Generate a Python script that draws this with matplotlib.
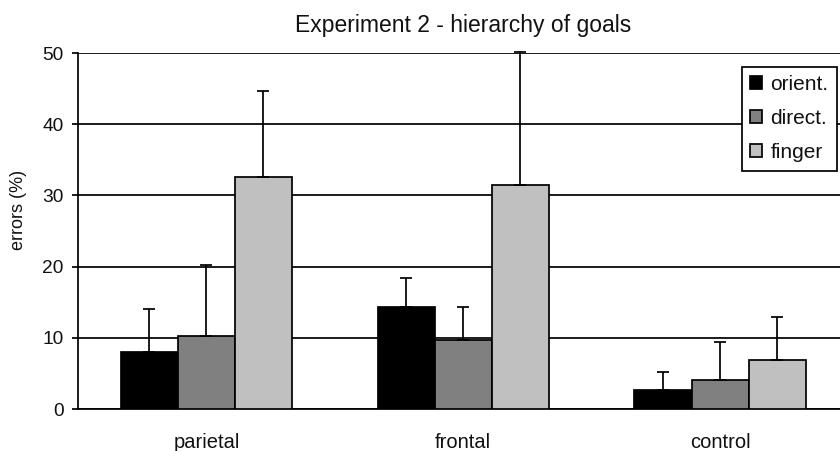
import matplotlib
matplotlib.use("Agg")
import matplotlib.pyplot as plt
import numpy as np

plt.rcParams['font.family'] = ['Liberation Sans', 'DejaVu Sans']

# Data
groups = ["parietal", "frontal", "control"]
series = ["orient.", "direct.", "finger"]
means = {
    "orient.": [8.0, 14.3, 2.7],
    "direct.": [10.3, 9.7, 4.1],
    "finger": [32.6, 31.5, 6.9],
}
errors = {
    "orient.": [6.0, 4.1, 2.5],
    "direct.": [9.9, 4.6, 5.3],
    "finger": [12.1, 18.6, 6.0],
}
colors = {"orient.": "#000000", "direct.": "#808080", "finger": "#c0c0c0"}
yticks = [0, 10, 20, 30, 40, 50]

LW = 1.25
TXT = "#111111"

fig = plt.figure(figsize=(8.4, 4.51), dpi=100)
ax = fig.add_axes([78 / 840, 42 / 451, 770.5 / 840, 356 / 451])

x = np.arange(len(groups))
width = 1 / 4.5
offsets = [-width, 0, width]

for off, name in zip(offsets, series):
    ax.bar(x + off, means[name], width, color=colors[name], edgecolor="black",
           linewidth=LW, label=name, zorder=3)
    ax.errorbar(x + off, means[name],
                yerr=[np.zeros(len(groups)), errors[name]],
                fmt="none", ecolor="black", elinewidth=LW, capsize=4.3,
                capthick=LW, zorder=4, clip_on=False)

ax.set_xlim(-0.5, 2.5)
ax.set_ylim(0, 50)
ax.set_yticks(yticks)
ax.set_xticks(x)
ax.set_xticklabels(groups, fontsize=14.5, color=TXT)
ax.tick_params(axis="x", length=0, pad=17)
ax.tick_params(axis="y", direction="out", length=4.3, width=LW,
               labelsize=13.8, labelcolor=TXT, pad=6)
ax.yaxis.grid(True, color="black", linewidth=LW, zorder=0)
ax.set_axisbelow(True)

for side in ("top", "right"):
    ax.spines[side].set_visible(False)
ax.spines["left"].set_linewidth(LW)
ax.spines["bottom"].set_linewidth(LW)

ax.set_ylabel("errors (%)", fontsize=13, color=TXT)
ax.yaxis.label.set_va("center")
ax.yaxis.set_label_coords(-0.0766, 0.559)

ax.set_title("Experiment 2 - hierarchy of goals", fontsize=16.5, pad=15,
             color=TXT)

leg = ax.legend(loc="upper left", bbox_to_anchor=(742 / 840, 1 - 67 / 451),
                bbox_transform=fig.transFigure, fontsize=15, frameon=True,
                fancybox=False, shadow=False, handlelength=0.58,
                handleheight=0.58, handletextpad=0.38, labelspacing=0.72,
                borderpad=0.4, borderaxespad=0)
for t in leg.get_texts():
    t.set_color(TXT)
leg.get_frame().set_edgecolor("black")
leg.get_frame().set_linewidth(LW)
leg.get_frame().set_alpha(1)
leg.set_zorder(5)

fig.savefig("out.png", dpi=100)
